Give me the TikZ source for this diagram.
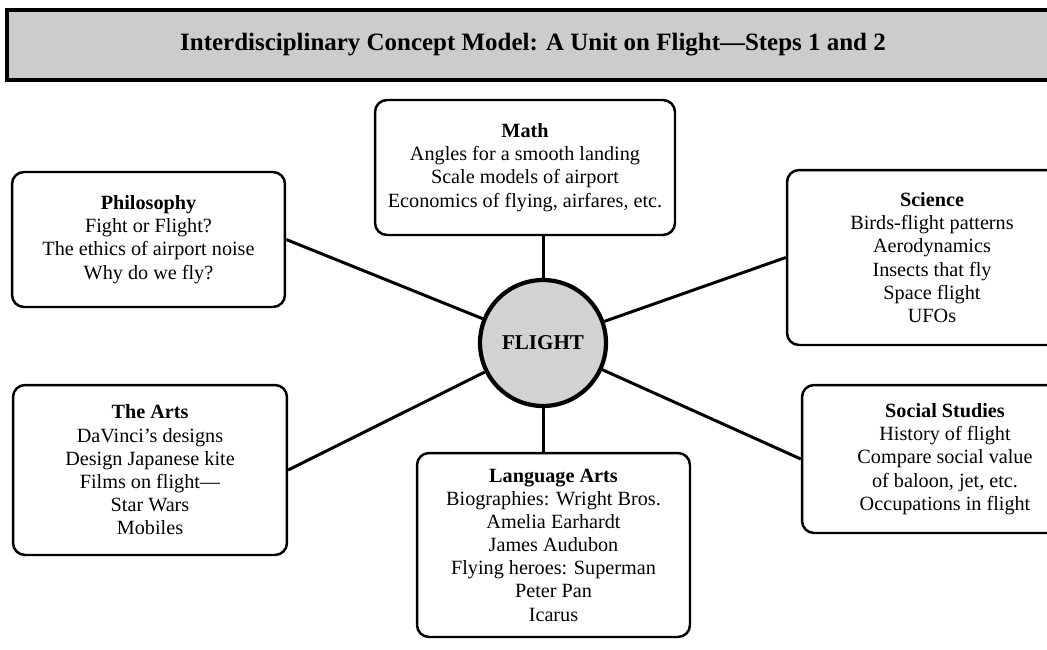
\documentclass[tikz,border=0pt]{standalone}
\usepackage{fontspec}
\setmainfont{Liberation Serif}
\begin{document}
\begin{tikzpicture}[x=0.02cm, y=-0.02cm,
	topic/.style={draw=black, line width=1.4pt, rounded corners=0.24cm, align=center, inner sep=0pt, font=\fontsize{11.5}{13.2}\selectfont},
	hub/.style={circle, draw=black, line width=2.4pt, fill=gray!35, minimum size=2.52cm, font=\bfseries\large},
	spoke/.style={line width=1.7pt}]
	\useasboundingbox (0, 0) rectangle (1047, 649);

	% title bar
	\draw[line width=2.2pt, fill=gray!40] (7, 10) rectangle (1062, 80);
	\node (title) at (533, 45) {\fontsize{14.2}{16}\selectfont\bfseries Interdisciplinary Concept Model: A Unit on Flight---Steps 1 and 2};

	\node[hub] (flight) at (543, 343) {FLIGHT};

	\node[topic, minimum width=6cm, minimum height=2.7cm] (math) at (525, 167.5) {\textbf{Math}\\Angles for a smooth landing\\Scale models of airport\\Economics of flying, airfares, etc.};
	\node[topic, minimum width=5.46cm, minimum height=2.7cm] (philo) at (148.5, 239.5) {\textbf{Philosophy}\\Fight or Flight?\\The ethics of airport noise\\Why do we fly?};
	\node[topic, minimum width=5.8cm, minimum height=3.5cm] (science) at (932, 257.5) {\textbf{Science}\\Birds-flight patterns\\Aerodynamics\\Insects that fly\\Space flight\\UFOs};
	\node[topic, minimum width=5.48cm, minimum height=3.4cm] (arts) at (150, 470) {\textbf{The Arts}\\DaVinci's designs\\Design Japanese kite\\Films on flight---\\Star Wars\\Mobiles};
	\node[topic, minimum width=5.46cm, minimum height=3.68cm] (lang) at (553.5, 545) {\textbf{Language Arts}\\Biographies: Wright Bros.\\Amelia Earhardt\\James Audubon\\Flying heroes: Superman\\Peter Pan\\Icarus};
	\node[topic, minimum width=5.72cm, minimum height=2.96cm] (social) at (945, 459) {\textbf{Social Studies}\\History of flight\\Compare social value\\of baloon, jet, etc.\\Occupations in flight};

	\draw[spoke] (flight) -- (flight |- math.south);
	\draw[spoke] (flight) -- (flight |- lang.north);
	\draw[spoke] (flight) -- (philo.east);
	\draw[spoke] (flight) -- (arts.east);
	\draw[spoke] (flight) -- (science.west);
	\draw[spoke] (flight) -- (social.west);
\end{tikzpicture}
\end{document}
